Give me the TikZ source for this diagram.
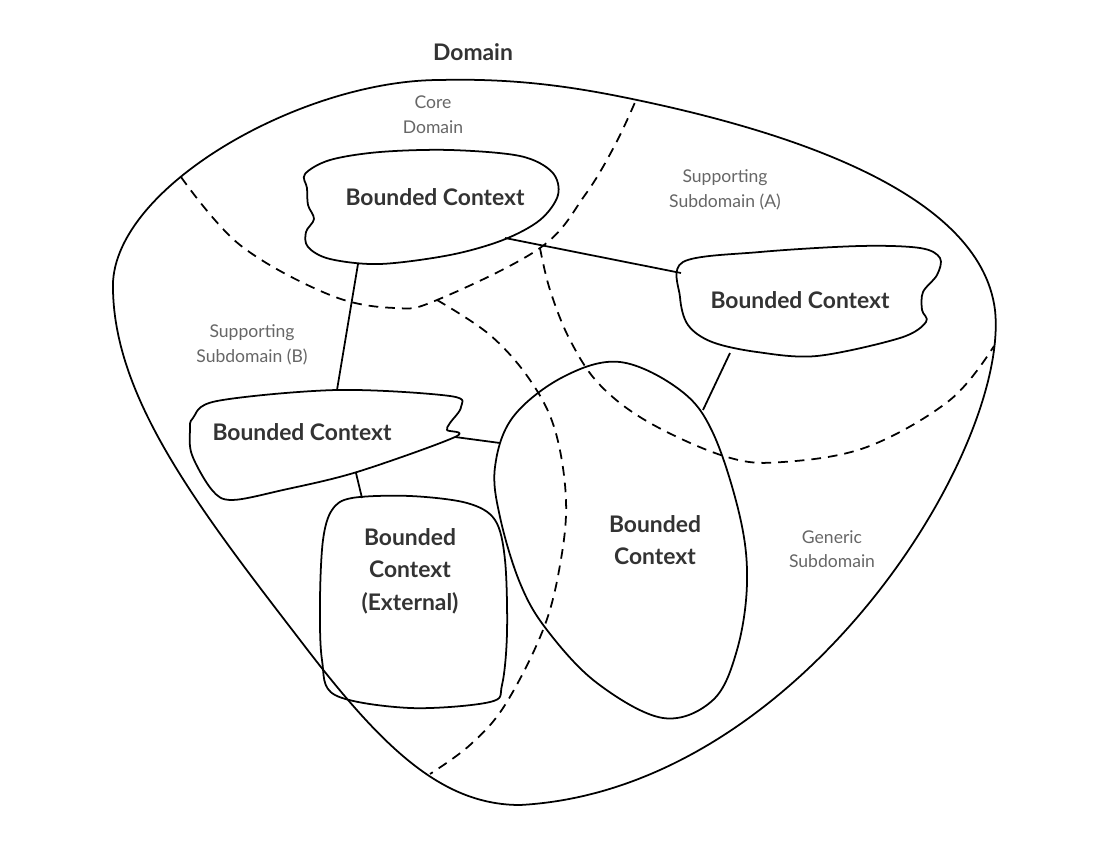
\documentclass[tikz,border=0pt]{standalone}
\usepackage{fontspec}
\setmainfont{Lato}
\usepackage{tikz}
\usetikzlibrary{positioning}

\begin{document}
\begin{tikzpicture}[
  x=0.02cm, y=-0.02cm,
  edge/.style={line width=1pt, line join=round},
  subline/.style={line width=1pt, dash pattern=on 5.5pt off 4pt},
  link/.style={line width=1pt},
  ctxtext/.style={font=\fontsize{13}{18.5}\selectfont\bfseries, text=black!80, align=center},
  sublabel/.style={font=\fontsize{10}{14}\selectfont, text=black!60, align=center},
  toplabel/.style={font=\fontsize{13}{16}\selectfont\bfseries, text=black!80},
]
\useasboundingbox (0,0) rectangle (1110,852);

% Domain outline
\draw[edge] (113,290) .. controls (108,190) and (300,80) .. (440,80)
  .. controls (520,78) and (580,88) .. (637,100)
  .. controls (780,130) and (980,190) .. (995,310)
  .. controls (1010,450) and (800,790) .. (520,805)
  .. controls (440,805) and (380,745) .. (300,640)
  .. controls (200,510) and (115,400) .. (113,290) -- cycle;

% Subdomain borders
\coordinate (s1) at (437,300);
\coordinate (s2) at (540,248);
\draw[subline] plot[smooth, tension=0.6] coordinates {
  (181,177) (240,245) (330,295) (395,308) (437,300) (540,248) (585,195)
  (615,145) (636,100)};
\draw[subline] plot[smooth, tension=0.6] coordinates {
  (437,300) (490,335) (530,380) (555,430) (566,500) (560,565) (543,630)
  (505,705) (470,745) (430,774)};
\draw[subline] plot[smooth, tension=0.6] coordinates {
  (540,248) (550,290) (570,340) (600,385) (650,423) (727,457) (783,462)
  (867,447) (950,400) (994,346)};

% Bounded context shapes
\draw[edge] plot[smooth cycle, tension=0.55] coordinates {
  (305,174) (330,160) (380,152) (450,150) (520,156) (552,172) (558,195)
  (540,220) (503,240) (450,255) (380,264) (330,259) (308,247) (306,232)
  (314,219) (308,205) (307,188)};
\draw[edge] plot[smooth cycle, tension=0.55] coordinates {
  (683,262) (760,252) (860,246) (920,248) (940,258) (937,275) (923,292)
  (922,310) (926,322) (900,338) (817,356) (757,352) (712,342) (688,325)
  (680,297)};
\draw[edge] plot[smooth cycle, tension=0.6] coordinates {
  (620,362) (680,390) (713,433) (740,517) (747,583) (737,650) (713,700)
  (663,718) (597,683) (547,630) (520,583) (500,517) (495,467) (513,417)
  (563,377)};
\draw[edge] plot[smooth cycle, tension=0.55] coordinates {
  (193,418) (217,401) (337,390) (450,396) (461,407) (450,423) (447,430)
  (455,437) (357,472) (283,490) (232,500) (212,490) (192,455) (190,430)};
\draw[edge] plot[smooth cycle, tension=0.55] coordinates {
  (352,498) (410,496) (467,503) (495,520) (505,560) (507,633) (502,685)
  (490,702) (410,708) (335,695) (322,660) (320,600) (323,540) (332,510)};

% Context names
\node[ctxtext] (core) at (435,197) {Bounded Context};
\node[ctxtext] (ctxA) at (800,300) {Bounded Context};
\node[ctxtext] (ctxB) at (302,432) {Bounded Context};
\node[ctxtext] (ctxE) at (655,540) {Bounded\\Context};
\node[ctxtext] (ctxX) at (410,571) {Bounded\\Context\\(External)};

% Subdomain names
\node[toplabel] (domain) at (473,52) {Domain};
\node[sublabel] (lcore) at (433,115) {Core\\Domain};
\node[sublabel] (lsubA) at (725,190) {Supporting\\Subdomain (A)};
\node[sublabel] (lsubB) at (252,345) {Supporting\\Subdomain (B)};
\node[sublabel] (lgen) at (832,549) {Generic\\Subdomain};

% Links between contexts
\coordinate (coreS) at (358,264);
\coordinate (coreE) at (505,238);
\coordinate (ctxAW) at (681,273);
\coordinate (ctxAS) at (730,353);
\coordinate (ctxBN) at (337,390);
\coordinate (ctxBE) at (455,437);
\coordinate (ctxBS) at (356,473);
\coordinate (ctxEN) at (703,410);
\coordinate (ctxEW) at (500,443);
\coordinate (ctxXN) at (362,498);
\draw[link] (coreS) -- (ctxBN);
\draw[link] (coreE) -- (ctxAW);
\draw[link] (ctxAS) -- (ctxEN);
\draw[link] (ctxBE) -- (ctxEW);
\draw[link] (ctxBS) -- (ctxXN);

\end{tikzpicture}
\end{document}
